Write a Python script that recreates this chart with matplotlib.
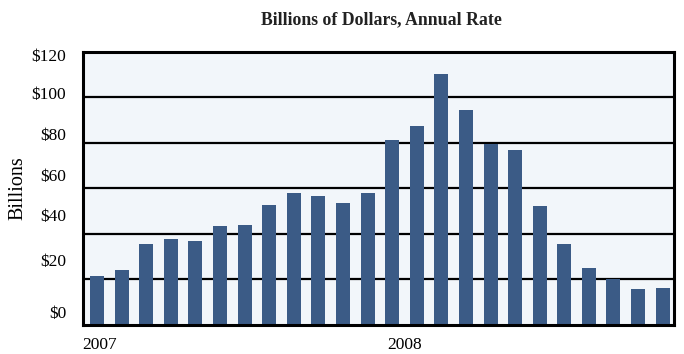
import matplotlib
matplotlib.use("Agg")
import matplotlib.pyplot as plt
import matplotlib.transforms as mtransforms

# monthly values, Jan 2007 - Dec 2008 (billions of dollars, annual rate)
months = list(range(24))
values = [21.6, 24.3, 35.7, 37.7, 36.9, 43.5, 43.9, 52.8, 57.9, 56.5, 53.6, 58.1,
          81.2, 87.4, 110.3, 94.2, 79.5, 77.0, 52.4, 35.4, 24.9, 20.0, 15.7, 16.4]
ytick_labels = ["$0", "$20", "$40", "$60", "$80", "$100", "$120"]
year_labels = ["2007", "2008"]
year_index = [0, 12]

plt.rcParams['font.family'] = ['Liberation Serif', 'DejaVu Serif']

fig = plt.figure(figsize=(6.84, 3.54), dpi=100)
ax = fig.add_axes([0.121, 0.082, 0.864, 0.772])
ax.set_facecolor('#f2f6fa')

ax.bar(months, values, width=0.57, color='#3b5b86', zorder=3)

# gridlines every $20
for g in [20, 40, 60, 80, 100]:
    ax.axhline(g, color='black', lw=1.6, zorder=2)

ax.set_xlim(-0.58, 23.45)
ax.set_ylim(0, 120)

# tick labels sit a little off the gridlines in the original
label_pos = [5.8, 28.5, 48.3, 65.8, 83.8, 101.8, 118.5]
ax.set_yticks(label_pos)
ax.set_yticklabels(ytick_labels, fontsize=12.5)
ax.tick_params(axis='y', length=0, pad=12)
ax.set_xticks([])

trans = mtransforms.blended_transform_factory(ax.transData, ax.transAxes)
for i, lab in zip(year_index, year_labels):
    ax.text(i - 0.6 + (0.4 if i else 0), -0.045, lab, transform=trans,
            ha='left', va='top', fontsize=12.5)

for s in ax.spines.values():
    s.set_linewidth(2.2)
    s.set_color('black')
    s.set_zorder(4)

ax.set_ylabel('Billions', fontsize=14.5, labelpad=3)
fig.text(0.557, 0.945, 'Billions of Dollars, Annual Rate', ha='center', va='center',
         fontsize=12.8, fontweight='semibold', color='#222222')

fig.savefig('out.png', dpi=100)
